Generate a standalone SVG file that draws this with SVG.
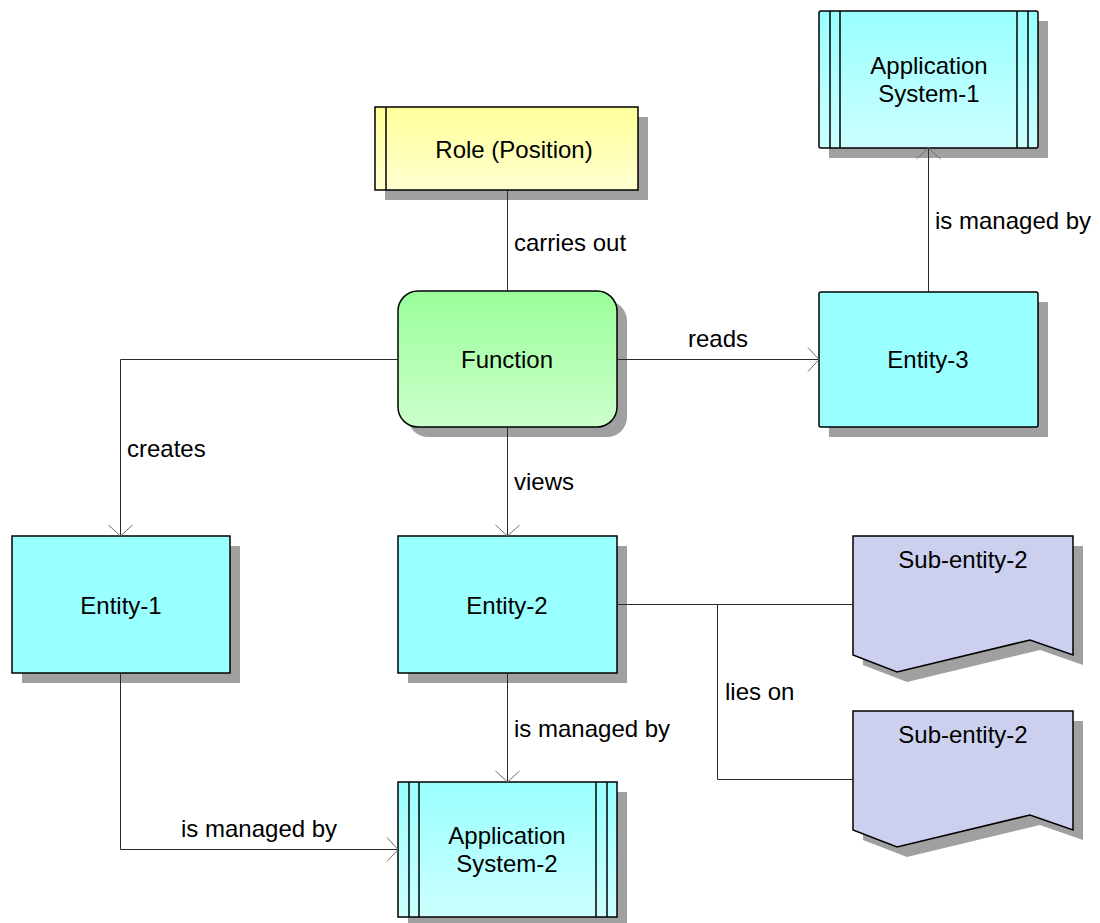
<svg xmlns="http://www.w3.org/2000/svg" width="1100" height="923" viewBox="0 0 1100 923">
  <defs>
    <linearGradient id="gYellow" x1="0" y1="0" x2="0" y2="1">
      <stop offset="0" stop-color="#ffff99"/>
      <stop offset="1" stop-color="#ffffd0"/>
    </linearGradient>
    <linearGradient id="gGreen" x1="0" y1="0" x2="0" y2="1">
      <stop offset="0" stop-color="#99ff99"/>
      <stop offset="1" stop-color="#ccffcc"/>
    </linearGradient>
    <linearGradient id="gCyan" x1="0" y1="0" x2="0" y2="1">
      <stop offset="0" stop-color="#99ffff"/>
      <stop offset="1" stop-color="#ccffff"/>
    </linearGradient>
    <marker id="arrow" viewBox="-12 -13 14 26" markerWidth="14" markerHeight="26" refX="0" refY="0" orient="auto" markerUnits="userSpaceOnUse">
      <path d="M-11,-12 L0,0 L-11,12" fill="none" stroke="#707070" stroke-width="1"/>
    </marker>
  </defs>
  <style>
    text { font-family: "Liberation Sans", Arial, sans-serif; font-size: 24px; fill: #000; }
    .c { text-anchor: middle; }
    .shadow { fill: #a0a0a0; stroke: none; }
    .box { stroke: #000; stroke-width: 1.5; }
    .stripe { stroke: #000; stroke-width: 1.5; fill: none; }
    .entity { fill: #99ffff; }
    .sub { fill: #ccd0ee; }
    .edge { fill: none; stroke: #2a2a2a; stroke-width: 1; }
  </style>

  <rect width="1100" height="923" fill="#ffffff"/>

  <!-- role -->
  <g id="role">
    <rect class="shadow" x="385" y="117" width="263" height="83"/>
    <rect class="box" x="375" y="107" width="263" height="83" fill="url(#gYellow)"/>
    <line class="stripe" x1="386" y1="107" x2="386" y2="190"/>
    <text class="c" x="514" y="158">Role (Position)</text>
  </g>

  <!-- function -->
  <g id="function">
    <rect class="shadow" x="408" y="301" width="219" height="136" rx="20"/>
    <rect class="box" x="398" y="291" width="219" height="136" rx="20" fill="url(#gGreen)"/>
    <text class="c" x="507" y="368">Function</text>
  </g>

  <!-- application system 1 -->
  <g id="appsys1">
    <rect class="shadow" x="829" y="21" width="219" height="137"/>
    <rect class="box" x="819" y="11" width="219" height="137" rx="2" fill="url(#gCyan)"/>
    <line class="stripe" x1="830" y1="11" x2="830" y2="148"/>
    <line class="stripe" x1="840" y1="11" x2="840" y2="148"/>
    <line class="stripe" x1="1017" y1="11" x2="1017" y2="148"/>
    <line class="stripe" x1="1028" y1="11" x2="1028" y2="148"/>
    <text class="c" x="929" y="74">Application</text>
    <text class="c" x="929" y="102">System-1</text>
  </g>

  <!-- entity 3 -->
  <g id="entity3">
    <rect class="shadow" x="829" y="302" width="219" height="135"/>
    <rect class="box entity" x="819" y="292" width="219" height="135" rx="2"/>
    <text class="c" x="928" y="368">Entity-3</text>
  </g>

  <!-- entity 1 -->
  <g id="entity1">
    <rect class="shadow" x="22" y="546" width="218" height="137"/>
    <rect class="box entity" x="12" y="536" width="218" height="137"/>
    <text class="c" x="121" y="614">Entity-1</text>
  </g>

  <!-- entity 2 -->
  <g id="entity2">
    <rect class="shadow" x="408" y="546" width="219" height="137"/>
    <rect class="box entity" x="398" y="536" width="219" height="137"/>
    <text class="c" x="507" y="614">Entity-2</text>
  </g>

  <!-- sub-entity (upper) -->
  <g id="subentity-a">
    <path class="shadow" d="M863,546 H1083 V665 L1040,650 L907,682 L863,665 Z"/>
    <path class="box sub" d="M853,536 H1073 V655 L1030,640 L897,672 L853,655 Z"/>
    <text class="c" x="963" y="568">Sub-entity-2</text>
  </g>

  <!-- sub-entity (lower) -->
  <g id="subentity-b">
    <path class="shadow" d="M863,721 H1083 V840 L1040,825 L907,857 L863,840 Z"/>
    <path class="box sub" d="M853,711 H1073 V830 L1030,815 L897,847 L853,830 Z"/>
    <text class="c" x="963" y="743">Sub-entity-2</text>
  </g>

  <!-- application system 2 -->
  <g id="appsys2">
    <rect class="shadow" x="408" y="792" width="219" height="131"/>
    <rect class="box" x="398" y="782" width="219" height="135" fill="url(#gCyan)"/>
    <line class="stripe" x1="409" y1="782" x2="409" y2="917"/>
    <line class="stripe" x1="419" y1="782" x2="419" y2="917"/>
    <line class="stripe" x1="596" y1="782" x2="596" y2="917"/>
    <line class="stripe" x1="607" y1="782" x2="607" y2="917"/>
    <text class="c" x="507" y="844">Application</text>
    <text class="c" x="507" y="872">System-2</text>
  </g>

  <!-- connectors, drawn above the node shadows -->
  <g id="connectors">
    <path class="edge" d="M507.5,190 V291"/>
    <path class="edge" d="M617,359.5 H819" marker-end="url(#arrow)"/>
    <path class="edge" d="M928.5,292 V148" marker-end="url(#arrow)"/>
    <path class="edge" d="M398,359.5 H120.5 V536" marker-end="url(#arrow)"/>
    <path class="edge" d="M507.5,427 V536" marker-end="url(#arrow)"/>
    <path class="edge" d="M617,604.5 H853"/>
    <path class="edge" d="M717.5,604.5 V779.5 H853"/>
    <path class="edge" d="M507.5,673 V782" marker-end="url(#arrow)"/>
    <path class="edge" d="M120.5,673 V849.5 H398" marker-end="url(#arrow)"/>
    <text x="514" y="251">carries out</text>
    <text x="688" y="347">reads</text>
    <text x="935" y="229">is managed by</text>
    <text x="127" y="457">creates</text>
    <text x="514" y="490">views</text>
    <text x="725" y="700">lies on</text>
    <text x="514" y="737">is managed by</text>
    <text x="181" y="837">is managed by</text>
  </g>
</svg>
